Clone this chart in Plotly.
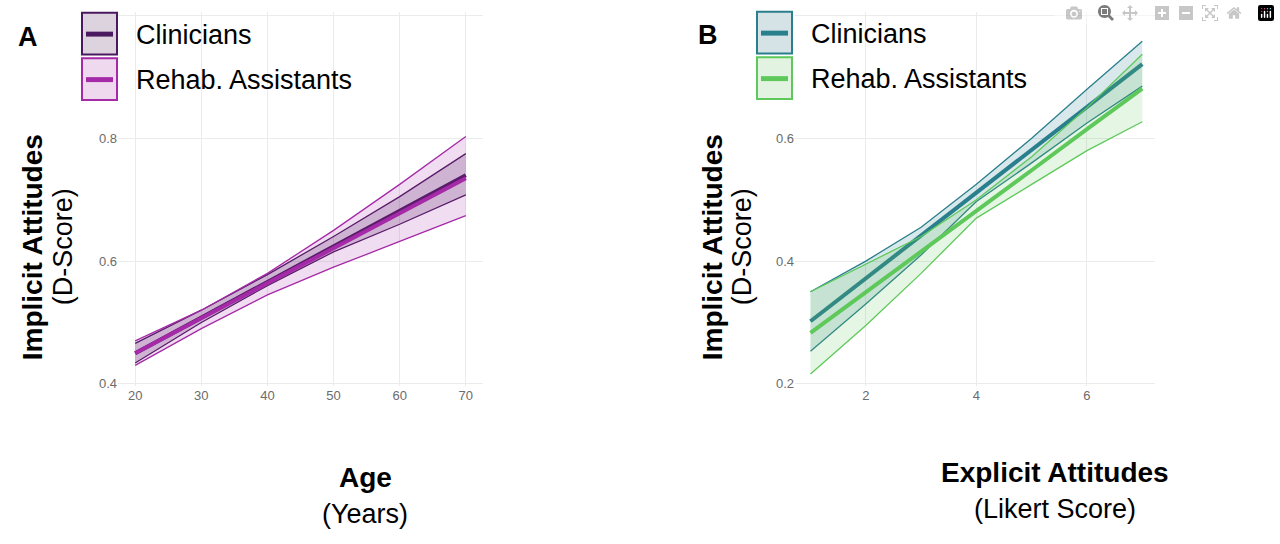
import plotly.graph_objects as go

# Panel A: implicit attitudes vs age
age = [20, 30, 40, 50, 60, 70]
a_clin_mean = [0.45, 0.508, 0.566, 0.624, 0.682, 0.74]
a_clin_lo = [0.434, 0.50, 0.56, 0.615, 0.66, 0.708]
a_clin_hi = [0.466, 0.52, 0.578, 0.64, 0.705, 0.775]
a_reh_mean = [0.45, 0.507, 0.564, 0.621, 0.678, 0.735]
a_reh_lo = [0.43, 0.49, 0.545, 0.59, 0.632, 0.674]
a_reh_hi = [0.47, 0.52, 0.58, 0.65, 0.725, 0.803]

# Panel B: implicit vs explicit attitudes
likert = [1, 2, 3, 4, 5, 6, 7]
b_clin_mean = [0.302, 0.372, 0.442, 0.511, 0.581, 0.651, 0.721]
b_clin_lo = [0.253, 0.33, 0.41, 0.497, 0.56, 0.625, 0.685]
b_clin_hi = [0.35, 0.40, 0.455, 0.525, 0.60, 0.68, 0.758]
b_reh_mean = [0.283, 0.349, 0.416, 0.482, 0.548, 0.615, 0.681]
b_reh_lo = [0.216, 0.295, 0.38, 0.47, 0.525, 0.58, 0.627]
b_reh_hi = [0.35, 0.395, 0.44, 0.50, 0.57, 0.65, 0.737]

W, H = 1280, 544
FONT = "Liberation Sans"


def px(x, y):
    return x / W, 1 - y / H


def band(fig, x, lo, hi, mean, col, fill, xa, ya):
    fig.add_trace(go.Scatter(x=x, y=lo, mode="lines", line=dict(color=col, width=1.3),
                             xaxis=xa, yaxis=ya, showlegend=False))
    fig.add_trace(go.Scatter(x=x, y=hi, mode="lines", line=dict(color=col, width=1.3),
                             fill="tonexty", fillcolor=fill, xaxis=xa, yaxis=ya, showlegend=False))
    fig.add_trace(go.Scatter(x=x, y=mean, mode="lines", line=dict(color=col, width=4),
                             xaxis=xa, yaxis=ya, showlegend=False))


fig = go.Figure()
band(fig, age, a_clin_lo, a_clin_hi, a_clin_mean, "#4a1a5e", "rgba(74,26,94,0.22)", "x", "y")
band(fig, age, a_reh_lo, a_reh_hi, a_reh_mean, "#a52aa8", "rgba(165,42,168,0.16)", "x", "y")
band(fig, likert, b_clin_lo, b_clin_hi, b_clin_mean, "#2a7f8c", "rgba(42,127,140,0.18)", "x2", "y2")
band(fig, likert, b_reh_lo, b_reh_hi, b_reh_mean, "#5ec95a", "rgba(94,201,90,0.16)", "x2", "y2")

ax = dict(showgrid=True, gridcolor="#ebebeb", gridwidth=1.2, zeroline=False, showline=False,
          ticks="", tickfont=dict(family=FONT, size=13, color="#6b6b6b"))
ydom = [1 - 390 / H, 1 - 12 / H]
fig.update_layout(
    width=W, height=H, margin=dict(l=0, r=0, t=0, b=0),
    plot_bgcolor="white", paper_bgcolor="white", font=dict(family=FONT),
    xaxis=dict(ax, domain=[118 / W, 483 / W], range=[17.4, 72.6], tickvals=[20, 30, 40, 50, 60, 70]),
    yaxis=dict(ax, domain=ydom, range=[0.397, 1.006], tickvals=[0.4, 0.6, 0.8, 1.0],
               ticktext=["0.4", "0.6", "0.8", ""]),
    xaxis2=dict(ax, domain=[795 / W, 1155 / W], range=[0.72, 7.23], tickvals=[2, 4, 6], anchor="y2"),
    yaxis2=dict(ax, domain=ydom, range=[0.197, 0.806], tickvals=[0.2, 0.4, 0.6, 0.8],
                ticktext=["0.2", "0.4", "0.6", ""], anchor="x2"),
)

shapes = []
annotations = []


def text(x, y, s, size, bold=False, angle=0, xanchor="center"):
    xx, yy = px(x, y)
    annotations.append(dict(x=xx, y=yy, xref="paper", yref="paper", text=f"<b>{s}</b>" if bold else s,
                            showarrow=False, textangle=angle, xanchor=xanchor, yanchor="middle",
                            font=dict(family=FONT, size=size, color="black")))


def rect(x0, y0, x1, y1, fill, line=None, lw=0, layer="above"):
    a0, b0 = px(x0, y0)
    a1, b1 = px(x1, y1)
    shapes.append(dict(type="rect", xref="paper", yref="paper", x0=a0, y0=b1, x1=a1, y1=b0,
                       fillcolor=fill, line=dict(color=line or fill, width=lw), layer=layer))


def legend(x0, y0, items):
    for i, (label, col, fill) in enumerate(items):
        top = y0 + i * 46
        rect(x0, top, x0 + 35, top + 42, fill, col, 2)
        rect(x0 + 4, top + 19, x0 + 31, top + 24, col)
        text(x0 + 52, top + 22, label, 27, xanchor="left")


# white boxes masking the grid behind the legends (under the data)
rect(75, 0, 366, 112, "white", layer="below")
rect(750, 0, 1037, 105, "white", layer="below")
legend(82, 13, [("Clinicians", "#4a1a5e", "#dcd3df"), ("Rehab. Assistants", "#a52aa8", "#efd9ef")])
legend(757, 12, [("Clinicians", "#2a7f8c", "#d5e3e6"), ("Rehab. Assistants", "#5ec95a", "#e2f3e1")])

text(28, 37, "A", 27, bold=True)
text(708, 35, "B", 27, bold=True)
text(32, 250, "Implicit Attitudes", 28, bold=True, angle=-90)
text(63, 250, "(D-Score)", 27, angle=-90)
text(712, 250, "Implicit Attitudes", 28, bold=True, angle=-90)
text(742, 250, "(D-Score)", 27, angle=-90)
text(365, 483, "Age", 28, bold=True)
text(365, 520, "(Years)", 27)
text(1055, 478, "Explicit Attitudes", 28, bold=True)
text(1055, 515, "(Likert Score)", 27)

fig.update_layout(shapes=shapes, annotations=annotations)
fig.write_html("out.html",
               post_script="document.body.style.margin='0';document.body.style.overflow='hidden';")
